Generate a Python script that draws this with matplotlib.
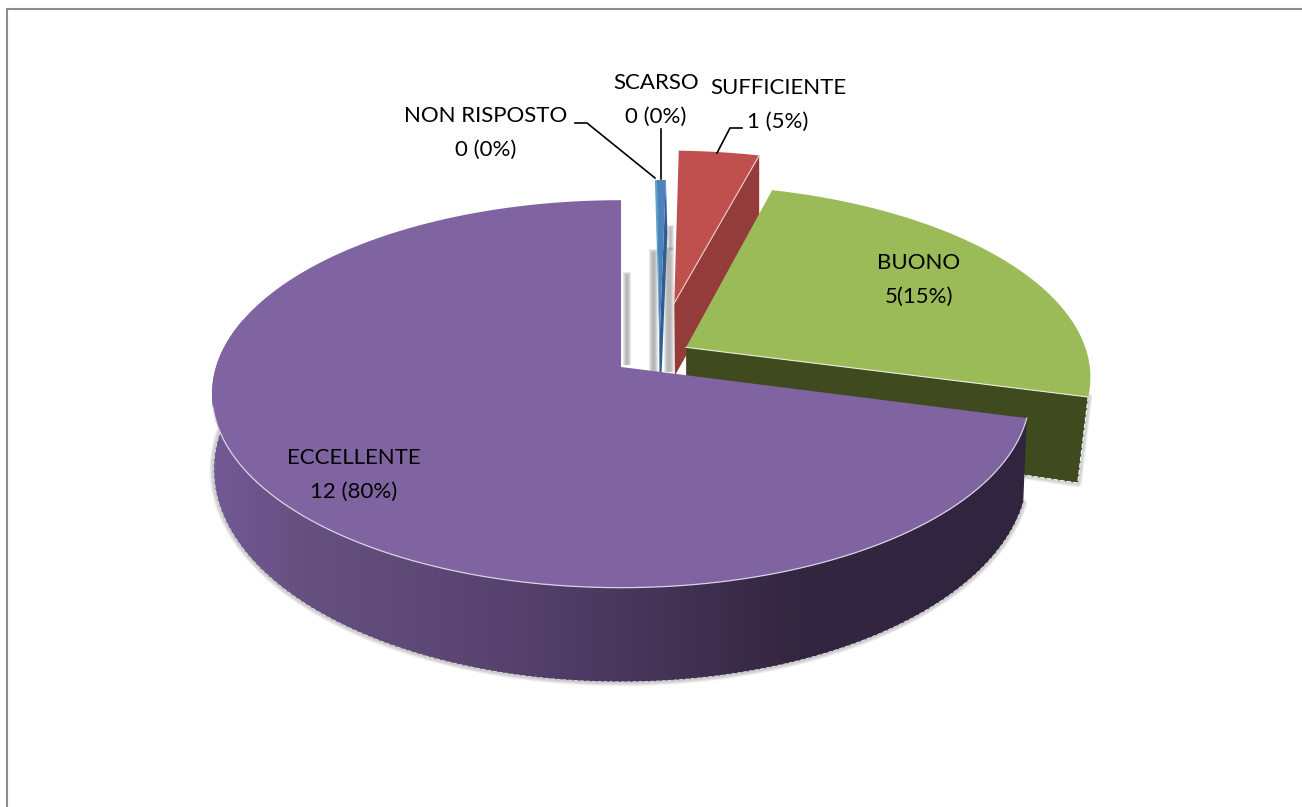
"""Exploded 3D pie, drawn by hand on one pixel-sized axes."""
import matplotlib

matplotlib.use("Agg")
import matplotlib.pyplot as plt
import numpy as np
from matplotlib.colors import LinearSegmentedColormap
from matplotlib.patches import Polygon

plt.rcParams["font.family"] = ["Lato", "DejaVu Sans"]

# clockwise from 12 o'clock, in slice order; shares
names = ["NON RISPOSTO", "SCARSO", "SUFFICIENTE", "BUONO", "ECCELLENTE"]
shares = [0.09, 0.41, 3.78, 24.9, 70.82]
labels = ["NON RISPOSTO\n0 (0%)", "SCARSO\n0 (0%)", "SUFFICIENTE\n1 (5%)", "BUONO\n5(15%)", "ECCELLENTE\n12 (80%)"]

top_colors = ["#4BACC6", "#4F81BD", "#C0504D", "#9BBB59", "#8064A2"]
wall_colors = ["#2C6A7E", "#2F5F92", "#943C3A", "#3F4A1F", "#5C4778"]
# explosion of each slice, in disc radii (x right, z towards the viewer)
explode = [(0.097, -0.14), (0.097, -0.14), (0.138, -0.353), (0.163, -0.105), (0.0, 0.0)]
label_pos = [(486, 133), (656, 100), (778, 105), (919, 280), (354, 475)]

TOP = dict(cx=621, cy=367, a=405, b=190, k=0.139)
BOTTOM = dict(cx=621, cy=447, a=405, b=210, k=0.106)

purple_wall = LinearSegmentedColormap.from_list(
    "purple_wall",
    [(0.0, "#735A97"), (0.12, "#66507F"), (0.354, "#584370"), (0.6, "#3F3050"), (0.72, "#33263F"), (1.0, "#30243F")],
)


def project(x, z, p):
    d = 1 - p["k"] * z
    return p["cx"] + p["a"] * x / d, p["cy"] + p["b"] * z / d


def rim(t0, t1, off, p, n=200):
    t = np.radians(np.linspace(t0, t1, n))
    return project(off[0] + np.sin(t), off[1] - np.cos(t), p)


def top_face(t0, t1, off):
    u, v = rim(t0, t1, off, TOP)
    a = project(off[0], off[1], TOP)
    return np.r_[a[0], u, a[0]], np.r_[a[1], v, a[1]]


def radial_wall(t, off):
    u0, v0 = project(off[0], off[1], TOP)
    u1, v1 = project(off[0] + np.sin(np.radians(t)), off[1] - np.cos(np.radians(t)), TOP)
    u2, v2 = project(off[0] + np.sin(np.radians(t)), off[1] - np.cos(np.radians(t)), BOTTOM)
    u3, v3 = project(off[0], off[1], BOTTOM)
    return [u0, u1, u2, u3], [v0, v1, v2, v3]


def soft_band(ax, x0, x1, y0, y1):
    for grow in (3, 2, 1, 0):
        ax.fill(
            [x0 - grow, x1 + grow, x1 + grow, x0 - grow],
            [y0 - grow, y0 - grow, y1, y1],
            color="#7A7A7A",
            alpha=0.17,
            lw=0,
            zorder=1,
        )


def soft_line(ax, u, v, zorder):
    for w in (6, 4.5, 3, 1.5):
        ax.plot(u, v, color="#808080", alpha=0.13, lw=w, solid_capstyle="round", zorder=zorder)


fig = plt.figure(figsize=(13.02, 8.07), dpi=100)
ax = fig.add_axes([0, 0, 1, 1])

# chart frame
ax.plot([7, 7, 1302], [807, 8.5, 8.5], color="#8C8C8C", lw=1.5, zorder=0)

# slice boundaries from the shares
edges = np.r_[0, np.cumsum(shares)] * 3.6

# blurred shadows in the gap behind the slivers
soft_band(ax, 626, 628, 275, 365)
soft_band(ax, 652, 655, 252, 372)
soft_band(ax, 667, 671, 250, 372)
soft_band(ax, 670, 671, 228, 250)

# red slice: the far corner of its wall reaches down behind the green slice
i = 2
u, v = radial_wall(edges[i + 1], explode[i])
u[2], v[2] = u[1], v[1] + 70
ax.fill(u, v, color=wall_colors[i], lw=0, zorder=2)
ax.fill(*top_face(edges[i], edges[i + 1], explode[i]), color=top_colors[i], lw=0, zorder=3)
ax.plot(u[:2], v[:2], color="#E8D0D0", lw=0.8, zorder=4)

for i in (0, 1):
    u, v = radial_wall(edges[i + 1], explode[i])
    ax.fill(u, v, color=wall_colors[i], lw=0, zorder=2)
    ax.fill(*top_face(edges[i], edges[i + 1], explode[i]), color=top_colors[i], lw=0, zorder=3)

# green slice: its wall leans inwards towards the bottom
i = 3
u, v = radial_wall(edges[i + 1], explode[i])
u[2], v[2] = u[2] - 8, v[2] + 3
soft_line(ax, u[1:], v[1:], 4)
ax.fill(u, v, color=wall_colors[i], lw=0, zorder=5)
ax.plot(u[1:3], v[1:3], color="white", lw=0.8, ls=(0, (4, 2)), zorder=6)
ax.plot(u[2:4], v[2:4], color="white", lw=0.8, ls=(0, (4, 2)), zorder=6)
ax.fill(*top_face(edges[i], edges[i + 1], explode[i]), color=top_colors[i], lw=0, zorder=6)
ax.plot(u[:2], v[:2], color="#E8EDD8", lw=0.8, zorder=7)

# purple slice: outer wall shaded by a horizontal gradient
i = 4
tu, tv = rim(edges[i], 285, explode[i], TOP, 260)
bu, bv = rim(edges[i], 285, explode[i], BOTTOM, 260)
soft_line(ax, bu, bv, 7)
wall_clip = Polygon(np.c_[np.r_[tu, bu[::-1]], np.r_[tv, bv[::-1]]], closed=True, transform=ax.transData)
img = ax.imshow(
    np.linspace(0, 1, 512)[None, :],
    cmap=purple_wall,
    extent=(205, 1030, 700, 300),
    aspect="auto",
    zorder=8,
    interpolation="bilinear",
)
img.set_clip_path(wall_clip)
ax.plot(*rim(edges[i], 275, explode[i], BOTTOM, 200), color="#E4E4E4", lw=0.6, ls=(0, (5, 2)), zorder=8.5)
ax.fill(*top_face(edges[i], edges[i + 1], explode[i]), color=top_colors[i], lw=0, zorder=9)
ax.plot(*rim(edges[i], 258, explode[i], TOP, 200), color="#D9D2E4", lw=0.9, zorder=10)

# labels and leader lines
for name, text, (x, y) in zip(names, labels, label_pos):
    ax.text(x, y, text, ha="center", va="center", fontsize=16, color="black", linespacing=1.85, zorder=12, gid=name)

ax.plot([575, 587, 655], [123, 123, 178], color="black", lw=1.2, zorder=11)
ax.plot([661, 661], [129, 179], color="black", lw=1.2, zorder=11)
ax.plot([742, 730, 717], [128, 128, 153], color="black", lw=1.2, zorder=11)

ax.set_xlim(0, 1302)
ax.set_ylim(807, 0)
ax.axis("off")

fig.savefig("out.png", dpi=100)
plt.close(fig)
